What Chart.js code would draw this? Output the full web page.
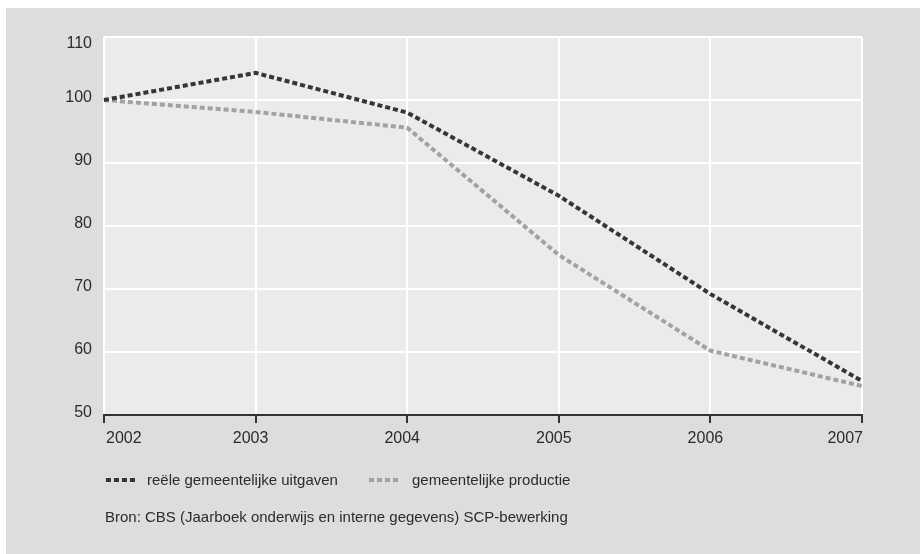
<!DOCTYPE html>
<html>
<head>
<meta charset="utf-8">
<script src="https://cdn.jsdelivr.net/npm/chart.js@4/dist/chart.umd.min.js"></script>
<style>
  html, body { margin: 0; padding: 0; background: #fff; }
  #wrap { position: relative; width: 920px; height: 554px; }
</style>
</head>
<body>
<div id="wrap"><canvas id="chart"></canvas></div>
<script>
const jaren = ["2002", "2003", "2004", "2005", "2006", "2007"];
const uitgaven = [100, 104.3, 98.0, 84.8, 69.2, 55.4];
const productie = [100, 98.1, 95.6, 75.4, 60.2, 54.6];
const yTicks = [50, 60, 70, 80, 90, 100, 110];
const legendaLabels = ["reële gemeentelijke uitgaven", "gemeentelijke productie"];
const bron = "Bron: CBS (Jaarboek onderwijs en interne gegevens) SCP-bewerking";

const FONT = "'Liberation Sans', Arial, sans-serif";
const TEXT = "#2b2b2b";

// achtergrond, plotvlak, as-labels, legenda en bron
const decor = {
  id: "decor",
  beforeDraw(chart) {
    const c = chart.ctx, a = chart.chartArea;
    c.save();
    c.fillStyle = "#fff";
    c.fillRect(0, 0, chart.width, chart.height);
    c.fillStyle = "#dcdddf";
    c.fillRect(6, 8, chart.width - 6, chart.height - 8);
    c.fillStyle = "#ebebed";
    c.fillRect(a.left, a.top, a.right - a.left, a.bottom - a.top);
    c.restore();
  },
  afterDraw(chart) {
    const c = chart.ctx, x = chart.scales.x, y = chart.scales.y, a = chart.chartArea;
    c.save();
    c.fillStyle = TEXT;
    c.textBaseline = "middle";
    c.font = "16px " + FONT;
    c.textAlign = "right";
    yTicks.forEach(v => {
      const py = y.getPixelForValue(v);
      c.fillText(String(v), a.left - 12, v === y.max ? py + 7 : py - 2);
    });
    jaren.forEach((j, i) => {
      const px = x.getPixelForValue(i);
      if (i === 0) { c.textAlign = "left"; c.fillText(j, px + 2, a.bottom + 24); }
      else if (i === jaren.length - 1) { c.textAlign = "right"; c.fillText(j, px + 1, a.bottom + 24); }
      else { c.textAlign = "center"; c.fillText(j, px - 5, a.bottom + 24); }
    });
    // legenda
    c.font = "15px " + FONT;
    const items = [[a.left + 2, 147], [a.left + 265, 412]];
    chart.data.datasets.forEach((ds, i) => {
      c.strokeStyle = ds.borderColor;
      c.lineWidth = ds.borderWidth;
      c.setLineDash(ds.borderDash);
      c.beginPath();
      c.moveTo(items[i][0], 480);
      c.lineTo(items[i][0] + 29, 480);
      c.stroke();
      c.setLineDash([]);
      c.textAlign = "left";
      c.fillText(legendaLabels[i], items[i][1], 481);
    });
    c.fillText(bron, a.left + 1, 518);
    c.restore();
  }
};

new Chart(document.getElementById("chart"), {
  type: "line",
  data: {
    labels: jaren,
    datasets: [
      { label: legendaLabels[0], data: uitgaven, borderColor: "#363636", borderWidth: 4, borderDash: [5, 3], pointRadius: 0, tension: 0 },
      { label: legendaLabels[1], data: productie, borderColor: "#a2a2a4", borderWidth: 4, borderDash: [5, 3], pointRadius: 0, tension: 0 }
    ]
  },
  options: {
    responsive: true,
    maintainAspectRatio: false,
    animation: false,
    layout: { padding: { left: 0, top: 37, right: 58, bottom: 0 } },
    plugins: { legend: { display: false }, tooltip: { enabled: false } },
    scales: {
      x: {
        ticks: { display: false },
        grid: { color: "#fff", lineWidth: 2, drawTicks: true, tickLength: 8, tickColor: "#333", tickWidth: 2 },
        border: { display: true, color: "#333", width: 2 },
        afterFit(s) { s.height = 554 - 415; }
      },
      y: {
        min: 50, max: 110,
        afterBuildTicks(s) { s.ticks = yTicks.map(v => ({ value: v })); },
        ticks: { display: false },
        grid: { color: "#fff", lineWidth: 2, drawTicks: false },
        border: { display: false },
        afterFit(s) { s.width = 104; }
      }
    }
  },
  plugins: [decor]
});
</script>
</body>
</html>
